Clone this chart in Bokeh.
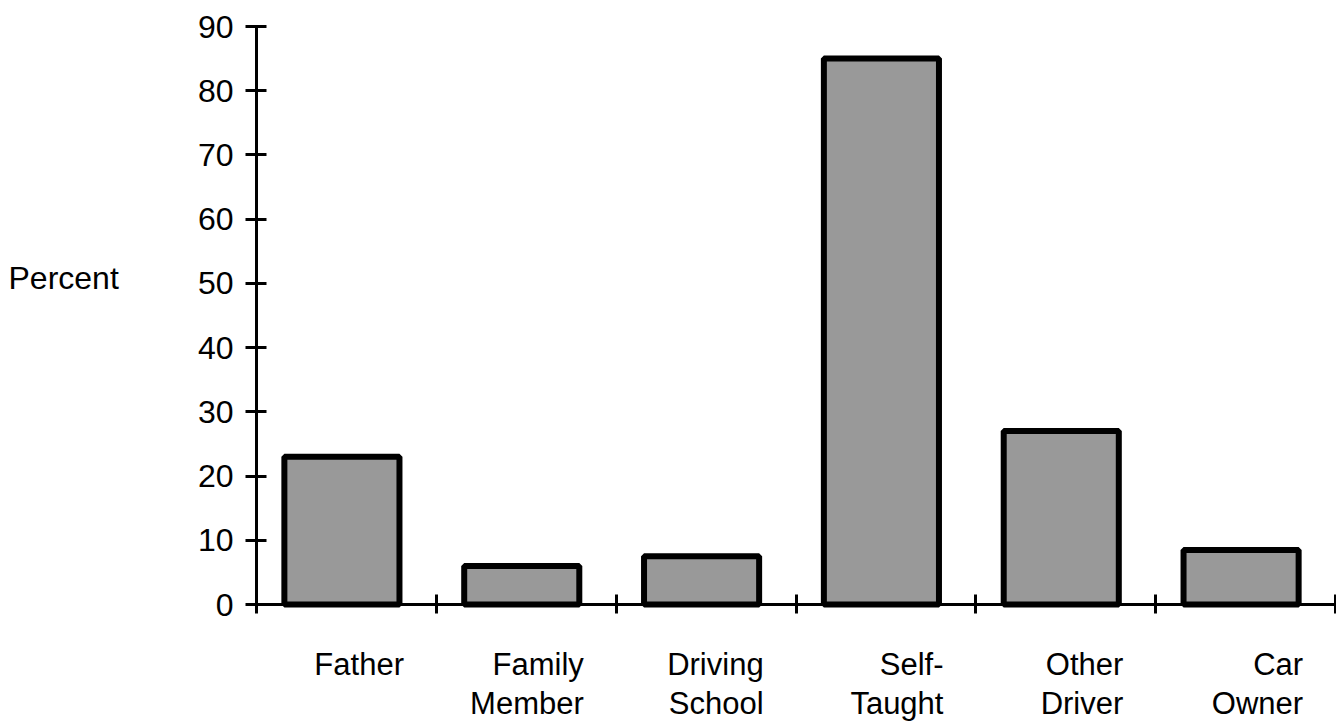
from bokeh.plotting import figure
from bokeh.models import Range1d, FixedTicker, Label, ColumnDataSource
from bokeh.core.properties import value
from bokeh.embed import file_html
from bokeh.resources import INLINE
import numpy as np

# ---- data ----
label_line1 = ["Father", "Family", "Driving", "Self-", "Other", "Car"]
label_line2 = ["", "Member", "School", "Taught", "Driver", "Owner"]
percent = [23, 6, 7.5, 85, 27, 8.5]
y_ticks = [0, 10, 20, 30, 40, 50, 60, 70, 80, 90]

FONT = "Liberation Sans"
FSIZE = "32px"
LSIZE = "31px"
n = len(percent)
idx = np.arange(n)

W, H = 1336, 721
X0PX, X6PX = 256, 1335      # pixel position of x=0 and x=n
Y0PX, Y90PX = 604, 26       # pixel position of y=0 and y=90
pxu_x = (X6PX - X0PX) / n
pxu_y = (Y0PX - Y90PX) / 90.0
x_range = Range1d(-X0PX / pxu_x, n + (W - X6PX) / pxu_x)
y_range = Range1d(-(H - Y0PX) / pxu_y, 90 + Y90PX / pxu_y)

p = figure(width=W, height=H, output_backend="svg", toolbar_location=None,
           x_range=x_range, y_range=y_range,
           min_border=0, min_border_left=0, min_border_right=0,
           min_border_top=0, min_border_bottom=0)
p.outline_line_color = None
p.xgrid.visible = False
p.ygrid.visible = False
p.background_fill_color = "white"
p.border_fill_color = "white"

p.vbar(x=idx + 0.475, top=percent, bottom=0, width=0.64,
       fill_color="#999999", line_color="black", line_width=6)

# y axis
ya = p.yaxis[0]
ya.fixed_location = 0
ya.bounds = (0, 90)
ya.ticker = FixedTicker(ticks=y_ticks)
ya.axis_line_width = 3
ya.major_tick_line_width = 3
ya.major_tick_in = 10
ya.major_tick_out = 11
ya.minor_tick_line_color = None
ya.major_label_text_font = FONT
ya.major_label_text_font_size = FSIZE
ya.major_label_text_color = "black"
ya.major_label_standoff = 12

# x axis
xa = p.xaxis[0]
xa.fixed_location = 0
xa.bounds = (0, n)
xa.ticker = FixedTicker(ticks=list(range(n + 1)))
xa.axis_line_width = 3
xa.major_tick_line_width = 3
xa.major_tick_in = 10
xa.major_tick_out = 9
xa.minor_tick_line_color = None
xa.major_label_overrides = {i: "" for i in range(n + 1)}

src = ColumnDataSource(dict(x=idx + 0.82, l1=label_line1, l2=label_line2,
                            y1=np.full(n, -9.3), y2=np.full(n, -15.4)))
for col, ycol in (("l1", "y1"), ("l2", "y2")):
    p.text(x="x", y=ycol, text=col, source=src, text_align="right",
           text_baseline="alphabetic", text_font=value(FONT),
           text_font_size=value(LSIZE), text_color="black")

p.add_layout(Label(x=8, x_units="screen", y=50.8, text="Percent", text_align="left",
                   text_baseline="middle", text_font=FONT, text_font_size=FSIZE,
                   text_color="black"))

open("out.html", "w").write(file_html(p, INLINE))
